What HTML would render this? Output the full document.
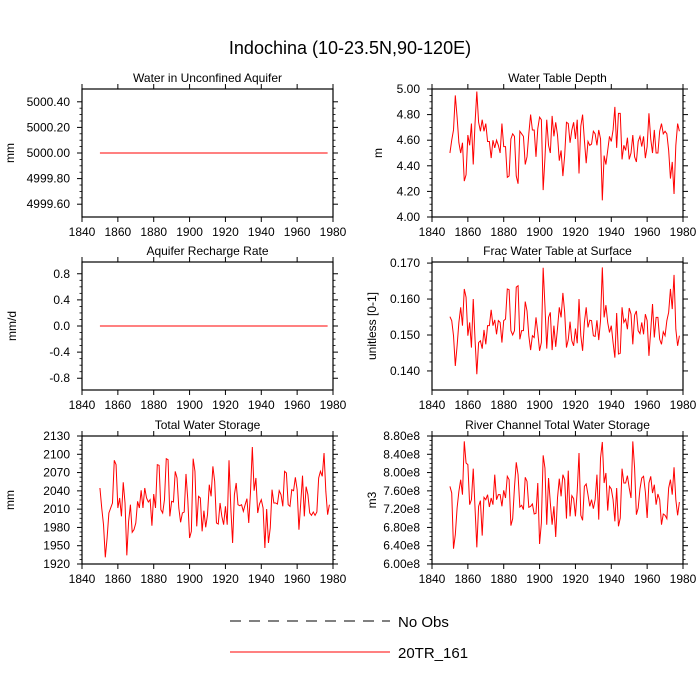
<!DOCTYPE html>
<html><head><meta charset="utf-8"><style>
html,body{margin:0;padding:0;background:#fff;}
svg{display:block;font-family:"Liberation Sans",Arial,sans-serif;}
</style></head><body>
<svg id="c" width="700" height="700" viewBox="0 0 700 700" xmlns="http://www.w3.org/2000/svg">
<text x="350" y="54" font-size="18" text-anchor="middle">Indochina (10-23.5N,90-120E)</text>
<g>
<line x1="230" y1="621" x2="390" y2="621" stroke="#000" stroke-width="1" stroke-dasharray="11,8"/>
<text x="398" y="627" font-size="15">No Obs</text>
<line x1="230" y1="652" x2="390" y2="652" stroke="#f00" stroke-width="1"/>
<text x="398" y="658" font-size="15">20TR_161</text>
</g>
</svg>
<script>
const startYear = 1850;
const xTicks = [1840,1860,1880,1900,1920,1940,1960,1980];
const aquiferVals = new Array(128).fill(5000.0);
const rechargeVals = new Array(128).fill(0.0);
const wtdVals = [4.50,4.60,4.68,4.95,4.78,4.58,4.50,4.58,4.28,4.33,4.64,4.56,4.73,4.41,4.73,4.98,4.74,4.67,4.76,4.67,4.73,4.59,4.59,4.46,4.60,4.54,4.60,4.56,4.50,4.73,4.55,4.55,4.31,4.32,4.61,4.65,4.63,4.32,4.26,4.67,4.65,4.63,4.41,4.47,4.65,4.80,4.68,4.68,4.47,4.69,4.78,4.76,4.21,4.46,4.76,4.56,4.50,4.79,4.63,4.74,4.64,4.44,4.52,4.32,4.48,4.74,4.73,4.58,4.68,4.74,4.61,4.76,4.34,4.71,4.80,4.60,4.42,4.59,4.56,4.57,4.67,4.65,4.56,4.68,4.61,4.13,4.48,4.41,4.52,4.63,4.59,4.68,4.86,4.54,4.81,4.81,4.45,4.56,4.52,4.62,4.45,4.50,4.64,4.47,4.43,4.59,4.63,4.55,4.63,4.46,4.55,4.81,4.61,4.50,4.68,4.50,4.50,4.67,4.73,4.65,4.67,4.65,4.52,4.30,4.43,4.18,4.56,4.73,4.67];
const fracVals = [0.1551,0.1540,0.1498,0.1414,0.1470,0.1535,0.1577,0.1526,0.1628,0.1605,0.1498,0.1535,0.1465,0.1600,0.1488,0.1391,0.1479,0.1484,0.1462,0.1514,0.1474,0.1526,0.1526,0.1570,0.1526,0.1542,0.1502,0.1540,0.1535,0.1479,0.1540,0.1544,0.1628,0.1626,0.1512,0.1500,0.1512,0.1633,0.1637,0.1488,0.1512,0.1512,0.1593,0.1567,0.1498,0.1458,0.1498,0.1493,0.1549,0.1507,0.1456,0.1479,0.1687,0.1581,0.1462,0.1549,0.1563,0.1458,0.1526,0.1467,0.1518,0.1577,0.1549,0.1617,0.1563,0.1465,0.1487,0.1537,0.1484,0.1470,0.1518,0.1477,0.1600,0.1498,0.1456,0.1535,0.1577,0.1521,0.1541,0.1540,0.1498,0.1496,0.1541,0.1486,0.1540,0.1688,0.1549,0.1583,0.1535,0.1507,0.1526,0.1479,0.1437,0.1561,0.1447,0.1449,0.1577,0.1535,0.1544,0.1516,0.1575,0.1558,0.1474,0.1555,0.1567,0.1512,0.1504,0.1535,0.1502,0.1558,0.1540,0.1442,0.1512,0.1586,0.1493,0.1549,0.1549,0.1488,0.1474,0.1509,0.1498,0.1540,0.1563,0.1628,0.1572,0.1667,0.1516,0.1470,0.1498];
const twsVals = [2044.7,2011.9,1984.5,1930.9,1962.7,2003.7,2011.9,2020.1,2090.1,2083.0,2011.9,2028.3,1998.2,2054.0,2020.1,1934.2,1990.0,2017.3,1972.0,1976.3,1987.3,2022.8,2011.9,2040.9,2011.9,2044.7,2028.3,2021.7,2025.6,1982.9,2034.8,2011.9,2083.0,2081.9,2009.1,2003.7,2025.6,2092.8,2091.2,1998.2,2022.8,2021.7,2072.0,2061.1,2011.9,1988.4,2003.7,2005.3,2067.7,2025.6,1962.7,1973.6,2092.8,2072.0,1981.8,2031.0,2028.3,1973.6,2007.5,1980.2,2000.9,2050.2,2031.0,2080.2,2055.6,1987.3,1985.6,2020.1,1998.2,1984.5,2014.6,1984.5,2090.1,2011.9,1954.5,2033.8,2052.9,2017.3,2015.7,2017.3,2006.4,2017.3,2027.2,1987.3,2039.2,2112.0,2040.3,2061.1,2003.7,2018.4,2025.6,2011.9,1946.3,2010.2,1954.5,1979.1,2042.0,2020.1,2020.1,2018.4,2040.3,2033.8,2014.6,2072.0,2069.3,2017.3,2014.6,2042.0,2040.3,2062.2,2042.0,1976.3,2020.1,2064.9,1998.2,2046.9,2033.8,2003.7,1999.8,2005.3,1999.8,2005.3,2061.1,2072.0,2063.8,2102.1,2039.2,2000.9,2017.3];
const riverVals = [7.699,7.553,6.335,6.642,7.225,7.590,7.845,7.517,8.683,8.210,8.173,7.298,7.407,8.086,7.225,6.365,7.262,7.385,6.620,7.458,7.407,7.517,7.247,7.444,7.298,7.954,7.407,7.517,7.517,7.262,7.612,7.444,7.918,7.845,6.839,6.992,7.677,8.224,7.954,7.247,7.283,7.189,7.896,7.808,7.240,7.262,7.313,7.094,7.108,7.772,6.438,6.897,8.377,8.100,6.860,7.881,7.334,6.860,7.262,6.591,7.444,7.867,7.480,7.954,7.845,6.992,8.042,7.043,7.495,7.429,7.043,7.590,8.428,7.065,6.955,7.699,7.750,7.517,7.262,7.407,7.210,7.407,7.954,6.970,8.319,8.669,7.772,7.991,7.167,7.699,7.641,7.407,6.933,7.663,6.824,7.006,8.086,7.772,7.772,7.932,7.663,7.444,8.683,8.100,7.079,7.225,7.641,7.881,7.918,7.575,7.006,7.772,7.918,7.553,7.735,7.298,7.531,7.407,6.860,7.094,7.065,6.992,7.663,7.845,7.517,8.115,7.407,7.065,7.356];
const aquiferTicks = ["5000.40","5000.20","5000.00","4999.80","4999.60"];
const rechargeTicks = ["0.8","0.4","0.0","-0.4","-0.8"];
const wtdTicks = ["5.00","4.80","4.60","4.40","4.20","4.00"];
const fracTicks = ["0.170","0.160","0.150","0.140"];
const twsTicks = ["2130","2100","2070","2040","2010","1980","1950","1920"];
const riverTicks = ["8.80e8","8.40e8","8.00e8","7.60e8","7.20e8","6.80e8","6.40e8","6.00e8"];

const NS="http://www.w3.org/2000/svg";
const svg=document.getElementById('c');
function mk(tag,attrs,parent){const e=document.createElementNS(NS,tag);for(const k in attrs)e.setAttribute(k,attrs[k]);(parent||svg).appendChild(e);return e;}

function panel(name,title,ylab,L,T,vals,ymin,ymax,tickLabels,tickVals,labelsEven,yTitleX){
  const W=251,H=128,R=L+W,B=T+H;
  const g=mk('g',{});
  
  
  const xs=y=>L+(y-1840)/140*W;
  const ys=v=>B-(v-ymin)/(ymax-ymin)*H;
  const t=mk('text',{x:(L+R)/2,y:T-7,'font-size':12,'text-anchor':'middle'},g);t.textContent=title;
  
  
  const yl=mk('text',{x:0,y:0,'font-size':12,'text-anchor':'middle',transform:`translate(${yTitleX} ${(T+B)/2}) rotate(-90)`},g);yl.textContent=ylab;
  
  
  xTicks.forEach(yr=>{const x=xs(yr);
    mk('line',{x1:x,y1:B,x2:x,y2:B+5,stroke:'#000'},g);
    mk('line',{x1:x,y1:T,x2:x,y2:T-5,stroke:'#000'},g);
    const tx=mk('text',{x:x,y:B+19,'font-size':12,'text-anchor':'middle'},g);tx.textContent=yr;
    
    
  });
  const n=tickLabels.length;
  tickLabels.forEach((lab,i)=>{
    const y=labelsEven? T+i*H/(n-1) : ys(tickVals[i]);
    mk('line',{x1:L-5,y1:y,x2:L,y2:y,stroke:'#000'},g);
    mk('line',{x1:R,y1:y,x2:R+5,y2:y,stroke:'#000'},g);
    const ty=mk('text',{x:L-12,y:y+4,'font-size':12,'text-anchor':'end'},g);ty.textContent=lab;
    
    
    if(i<n-1){const y2=labelsEven? T+(i+1)*H/(n-1) : ys(tickVals[i+1]);
      for(let k=1;k<4;k++){const ym=y+(y2-y)*k/4;
        mk('line',{x1:L-2.5,y1:ym,x2:L,y2:ym,stroke:'#000','stroke-width':0.8},g);
        mk('line',{x1:R,y1:ym,x2:R+2.5,y2:ym,stroke:'#000','stroke-width':0.8},g);}}
  });
  mk('rect',{x:L,y:T,width:W,height:H,fill:'none',stroke:'#000','stroke-width':1.2},g);
  const pts=vals.map((v,i)=>xs(startYear+i).toFixed(2)+','+ys(v).toFixed(2)).join(' ');
  const pl=mk('polyline',{points:pts,fill:'none',stroke:'#f00','stroke-width':1},g);
  
  
}
panel('aquifer-left','Water in Unconfined Aquifer','mm',82,89,aquiferVals,4999.5,5000.5,aquiferTicks,[5000.4,5000.2,5000.0,4999.8,4999.6],false,14);
panel('wtd-right','Water Table Depth','m',432,89,wtdVals,4.0,5.0,wtdTicks,[5.0,4.8,4.6,4.4,4.2,4.0],false,382);
panel('recharge-left','Aquifer Recharge Rate','mm/d',82,262,rechargeVals,-0.98,0.98,rechargeTicks,[0.8,0.4,0,-0.4,-0.8],false,16);
panel('frac-right','Frac Water Table at Surface','unitless [0-1]',432,262,fracVals,0.1347,0.1703,fracTicks,[0.17,0.16,0.15,0.14],false,376);
panel('tws-left','Total Water Storage','mm',82,436,twsVals,1920,2130,twsTicks,null,true,14);
panel('river-right','River Channel Total Water Storage','m3',432,436,riverVals,6.0,8.8,riverTicks,null,true,376);
</script>
</body></html>
